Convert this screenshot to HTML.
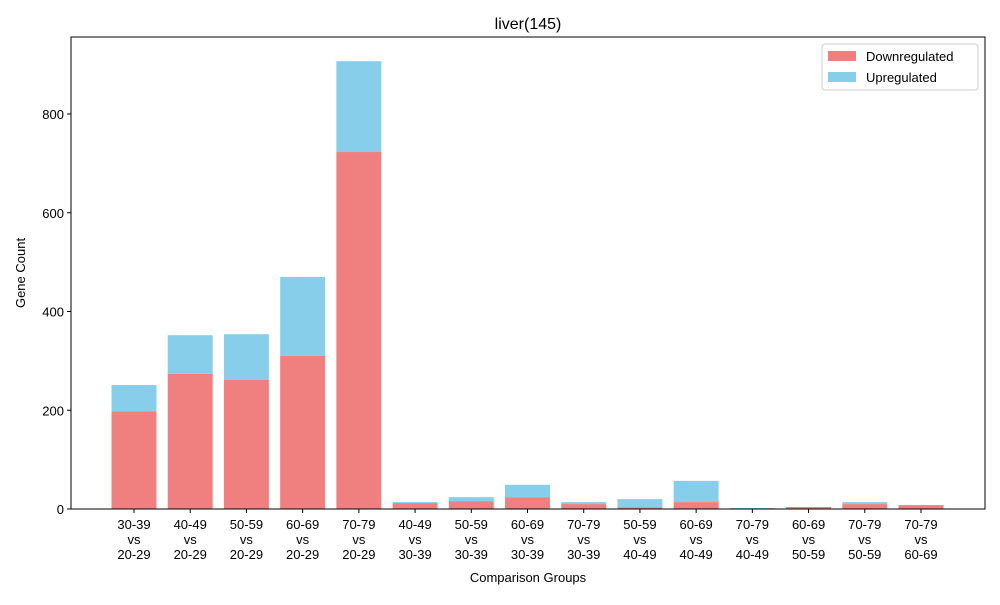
<!DOCTYPE html>
<html><head><meta charset="utf-8"><style>
body{margin:0;background:#fff;}
svg{font-family:"Liberation Sans","DejaVu Sans",sans-serif;}
</style></head><body>
<svg id="chart" width="1000" height="600" viewBox="0 0 1000 600">
<rect width="1000" height="600" fill="#fff"/>
<text x="528" y="29" font-size="16" text-anchor="middle">liver(145)</text>
<g id="bars"></g>
<g id="axes"></g>
<rect x="71" y="37" width="914" height="472" fill="none" stroke="#000" stroke-width="1"/>
<text x="528" y="582" font-size="13" text-anchor="middle">Comparison Groups</text>
<text transform="translate(25,273) rotate(-90)" font-size="13" text-anchor="middle">Gene Count</text>
<g>
<rect x="822" y="44" width="156" height="46" rx="3" fill="#fff" stroke="#ccc"/>
<rect x="828" y="51" width="28" height="10" fill="#f08080"/>
<text x="866" y="61" font-size="13">Downregulated</text>
<rect x="828" y="72" width="28" height="10" fill="#87ceeb"/>
<text x="866" y="82" font-size="13">Upregulated</text>
</g>
</svg>
<script>
const categories = ["30-39|vs|20-29","40-49|vs|20-29","50-59|vs|20-29","60-69|vs|20-29","70-79|vs|20-29","40-49|vs|30-39","50-59|vs|30-39","60-69|vs|30-39","70-79|vs|30-39","50-59|vs|40-49","60-69|vs|40-49","70-79|vs|40-49","60-69|vs|50-59","70-79|vs|50-59","70-79|vs|60-69"];
const downregulated = [198,274,262,310,723,12,16,24,10,3,14,0,4,10,8];
const upregulated = [53,78,92,160,184,2,8,25,4,17,43,2,0,4,0];
const yTicks = [0,200,400,600,800];

const NS="http://www.w3.org/2000/svg";
const x0=71,x1=985,yBase=509,yTop=37;
const yMax=(509-37)/0.49375;
function y(v){return yBase-(v/yMax)*(yBase-yTop);}
const n=categories.length;
const step=(921-134)/(n-1);
function xc(i){return 134+step*i;}
const bw=step*0.8;
function mk(tag,attrs,parent){const e=document.createElementNS(NS,tag);for(const k in attrs)e.setAttribute(k,attrs[k]);parent.appendChild(e);return e;}
const bars=document.getElementById('bars'),axes=document.getElementById('axes');
categories.forEach((c,i)=>{
  const d=downregulated[i],u=upregulated[i];
  const r1=mk('rect',{x:xc(i)-bw/2,y:y(d),width:bw,height:yBase-y(d),fill:'#f08080'},bars);
  
  
  const r2=mk('rect',{x:xc(i)-bw/2,y:y(d+u),width:bw,height:y(d)-y(d+u),fill:'#87ceeb'},bars);
  
  
  const t=mk('line',{x1:xc(i),x2:xc(i),y1:yBase,y2:yBase+4,stroke:'#000'},axes);
  
  
  c.split('|').forEach((s,j)=>{
    const tx=mk('text',{x:xc(i),y:529+j*15,'font-size':13,'text-anchor':'middle'},axes);
    tx.textContent=s;
    
    
  });
});
yTicks.forEach(v=>{
  const t=mk('line',{x1:x0-4,x2:x0,y1:y(v),y2:y(v),stroke:'#000'},axes);
  
  
  const tx=mk('text',{x:x0-7,y:y(v)+5,'font-size':13,'text-anchor':'end'},axes);
  tx.textContent=v;
  
  
});
</script>
</body></html>
